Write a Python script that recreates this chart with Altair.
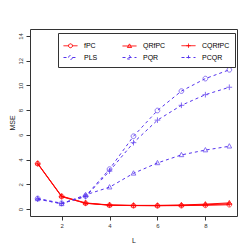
import altair as alt
import pandas as pd

L = [1, 2, 3, 4, 5, 6, 7, 8, 9]
methods = ["fPC", "QRfPC", "CQRfPC", "PLS", "PQR", "PCQR"]
legend_order = ["fPC", "PLS", "QRfPC", "PQR", "CQRfPC", "PCQR"]
mse = {
    "fPC":    [3.68, 1.02, 0.47, 0.31, 0.28, 0.27, 0.28, 0.30, 0.35],
    "QRfPC":  [3.70, 1.05, 0.50, 0.33, 0.30, 0.30, 0.33, 0.40, 0.50],
    "CQRfPC": [3.66, 1.00, 0.47, 0.32, 0.29, 0.28, 0.30, 0.35, 0.42],
    "PLS":    [0.86, 0.47, 1.05, 3.23, 5.89, 7.97, 9.54, 10.55, 11.26],
    "PQR":    [0.82, 0.42, 1.15, 1.77, 2.89, 3.73, 4.38, 4.77, 5.08],
    "PCQR":   [0.80, 0.45, 1.00, 3.07, 5.37, 7.19, 8.39, 9.25, 9.85],
}
color_of = {"fPC": "#ff0000", "QRfPC": "#ff0000", "CQRfPC": "#ff0000",
            "PLS": "#5533ee", "PQR": "#5533ee", "PCQR": "#5533ee"}
dash_of = {"fPC": [1, 0], "QRfPC": [1, 0], "CQRfPC": [1, 0],
           "PLS": [3, 3], "PQR": [3, 3], "PCQR": [3, 3]}

circ_s = "M0.28,0A0.28,0.28 0 1 1 -0.28,0A0.28,0.28 0 1 1 0.28,0"
tri_s = "M0,-0.3L0.3,0.22L-0.3,0.22Z"
plus_s = "M-0.3,0L0.3,0M0,-0.3L0,0.3"
leg_shape_of = {
    "fPC": "M-1,0L-0.28,0M0.28,0L1,0" + circ_s,
    "PLS": "M-1,0L-0.28,0M0.28,0L1,0" + circ_s,
    "QRfPC": "M-1,0L1,0" + tri_s,
    "PQR": "M-1,0L1,0" + tri_s,
    "CQRfPC": "M-1,0L1,0" + plus_s,
    "PCQR": "M-1,0L1,0" + plus_s,
}
pt_shape_of = {
    "fPC": "M1,0A1,1 0 1 1 -1,0A1,1 0 1 1 1,0Z",
    "PLS": "M1,0A1,1 0 1 1 -1,0A1,1 0 1 1 1,0Z",
    "QRfPC": "M0,-1.1L1,0.75L-1,0.75Z",
    "PQR": "M0,-1.1L1,0.75L-1,0.75Z",
    "CQRfPC": "M-1.2,0L1.2,0M0,-1.2L0,1.2",
    "PCQR": "M-1.2,0L1.2,0M0,-1.2L0,1.2",
}

rows = []
for m in methods:
    for l, v in zip(L, mse[m]):
        rows.append({"L": l, "MSE": v, "method": m})
df = pd.DataFrame(rows)

font = "Liberation Sans"
xs = alt.Scale(domain=[0.68, 9.32], nice=False, zero=False)
ys = alt.Scale(domain=[-0.56, 14.56], nice=False, zero=False)
xax = alt.Axis(values=[2, 4, 6, 8], title="L", grid=False, domain=False,
               tickSize=4, tickColor="#333", labelFontSize=6, titleFontSize=7,
               labelFont=font, titleFont=font, titleFontWeight="normal",
               titleColor="#222", labelPadding=2, titlePadding=8, labelColor="#333")
yax = alt.Axis(values=list(range(0, 15, 2)), title="MSE", grid=False, domain=False,
               tickSize=4, tickColor="#333", labelFontSize=6, titleFontSize=7,
               labelAngle=270, labelAlign="center", labelBaseline="bottom",
               labelFont=font, titleFont=font, titleFontWeight="normal",
               titleColor="#222", labelPadding=3, titlePadding=2, labelColor="#333")

base = alt.Chart(df)
x = alt.X("L:Q", scale=xs, axis=xax)
y = alt.Y("MSE:Q", scale=ys, axis=yax)

lines = base.mark_line(strokeWidth=1).encode(
    x=x, y=y,
    color=alt.Color("method:N", scale=alt.Scale(domain=methods, range=[color_of[m] for m in methods]), legend=None),
    strokeDash=alt.StrokeDash("method:N", scale=alt.Scale(domain=methods, range=[dash_of[m] for m in methods]), legend=None),
    detail="method:N",
)
points = base.mark_point(filled=False, strokeWidth=1, size=22).encode(
    x=x, y=y,
    color=alt.Color("method:N", scale=alt.Scale(domain=methods, range=[color_of[m] for m in methods]), legend=None),
    shape=alt.Shape("method:N", scale=alt.Scale(domain=methods, range=[pt_shape_of[m] for m in methods]), legend=None),
)
leg = base.mark_point(filled=False, opacity=0, strokeWidth=1).encode(
    x=x, y=y,
    color=alt.Color("method:N",
                    scale=alt.Scale(domain=legend_order, range=[color_of[m] for m in legend_order]),
                    sort=legend_order,
                    legend=alt.Legend(title=None, orient="none", legendX=28, legendY=4,
                                      columns=3, gridAlign="all", columnPadding=8,
                                      rowPadding=-6, symbolSize=196, symbolStrokeWidth=1,
                                      labelFontSize=7, labelFont=font, labelColor="#000",
                                      labelOffset=6, padding=5,
                                      strokeColor="#333", fillColor="white",
                                      symbolOpacity=1)),
    shape=alt.Shape("method:N", sort=legend_order,
                    scale=alt.Scale(domain=legend_order, range=[leg_shape_of[m] for m in legend_order])),
    strokeDash=alt.StrokeDash("method:N", sort=legend_order,
                              scale=alt.Scale(domain=legend_order, range=[dash_of[m] for m in legend_order])),
)

chart = alt.layer(lines, points, leg).resolve_scale(
    color="independent", shape="independent", strokeDash="independent"
).properties(
    width=207, height=187,
    autosize=alt.AutoSizeParams(type="none"),
    padding={"left": 22, "top": 21, "right": 7, "bottom": 28},
    background="white",
).configure_view(stroke="#333", strokeWidth=1)

chart.save("out.html", embed_options={"renderer": "svg", "actions": False})
